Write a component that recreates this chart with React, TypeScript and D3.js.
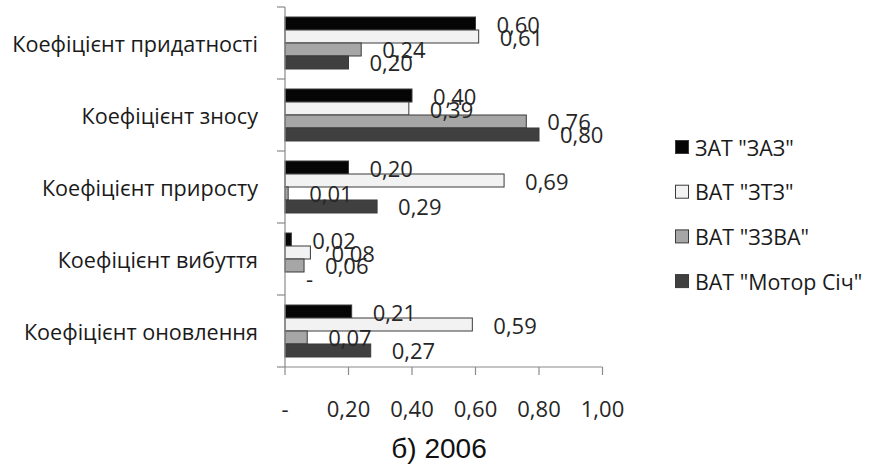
import React from "react";
import * as d3 from "d3";

const categories = [
  "Коефіцієнт придатності",
  "Коефіцієнт зносу",
  "Коефіцієнт приросту",
  "Коефіцієнт вибуття",
  "Коефіцієнт оновлення",
];
const seriesNames = ['ЗАТ "ЗАЗ"', 'ВАТ "ЗТЗ"', 'ВАТ "ЗЗВА"', 'ВАТ "Мотор Січ"'];
const zaz = [0.6, 0.4, 0.2, 0.02, 0.21];
const ztz = [0.61, 0.39, 0.69, 0.08, 0.59];
const zzva = [0.24, 0.76, 0.01, 0.06, 0.07];
const motorSich = [0.2, 0.8, 0.29, 0, 0.27];
const xTicks = [0, 0.2, 0.4, 0.6, 0.8, 1.0];
const title = "б) 2006";

const seriesValues = [zaz, ztz, zzva, motorSich];
const fills = ["#050505", "#f2f2f2", "#a6a6a6", "#404040"];

const W = 872;
const H = 465;
const FONT = "'Open Sans', 'Noto Sans', sans-serif";

const fmt = (v: number) => (v === 0 ? "-" : v.toFixed(2).replace(".", ","));

export default function App() {
  const x = d3.scaleLinear().domain([0, 1]).range([285, 602.5]);
  const y = d3
    .scaleBand<string>()
    .domain(categories)
    .range([7, 367])
    .paddingInner(0.278)
    .paddingOuter(0.139);
  const ySub = d3
    .scaleBand<string>()
    .domain(seriesNames)
    .range([0, y.bandwidth()]);

  const step = y.step();
  const catTickYs = d3.range(categories.length + 1).map((i) => 7 + i * step);

  return (
    <svg
      width={W}
      height={H}
      style={{ position: "absolute", left: 0, top: 0, background: "#fff" }}
    >
      <rect x={0} y={0} width={W} height={H} fill="#fff" />
      {/* bars */}
      {seriesNames.map((s, si) =>
        categories.map((c, ci) => {
          const v = seriesValues[si][ci];
          const by = (y(c) as number) + (ySub(s) as number);
          return (
            <rect
              key={s + c}
              x={x(0)}
              y={by}
              width={Math.max(0, x(v) - x(0))}
              height={ySub.bandwidth()}
              fill={fills[si]}
              stroke="#3a3a3a"
              strokeWidth={1}
            />
          );
        })
      )}
      {/* axes */}
      <line x1={x(0)} x2={x(0)} y1={7} y2={367} stroke="#8a8a8a" strokeWidth={1.2} />
      {catTickYs.map((ty, i) => (
        <line key={"ct" + i} x1={277} x2={x(0)} y1={ty} y2={ty} stroke="#8a8a8a" strokeWidth={1.2} />
      ))}
      <line x1={x(0)} x2={x(1)} y1={367} y2={367} stroke="#8a8a8a" strokeWidth={1.2} />
      {xTicks.map((t) => (
        <line key={"xt" + t} x1={x(t)} x2={x(t)} y1={367} y2={375} stroke="#8a8a8a" strokeWidth={1.2} />
      ))}
      {xTicks.map((t) => (
        <text
          key={"xl" + t}
          x={x(t)}
          y={408}
          textAnchor="middle"
          dominantBaseline="central"
          fontFamily={FONT}
          fontSize={22}
          fill="#262626"
        >
          {fmt(t)}
        </text>
      ))}
      {/* category labels */}
      {categories.map((c) => (
        <text
          key={"cl" + c}
          x={258}
          y={(y(c) as number) + y.bandwidth() / 2}
          textAnchor="end"
          dominantBaseline="central"
          fontFamily={FONT}
          fontSize={21.6}
          fill="#1a1a1a"
        >
          {c}
        </text>
      ))}
      {/* value labels */}
      {seriesNames.map((s, si) =>
        categories.map((c, ci) => {
          const v = seriesValues[si][ci];
          const by = (y(c) as number) + (ySub(s) as number) + ySub.bandwidth() / 2;
          return (
            <text
              key={"vl" + s + c}
              x={x(v) + 21}
              y={by}
              dominantBaseline="central"
              fontFamily={FONT}
              fontSize={22}
              fill="#262626"
            >
              {fmt(v)}
            </text>
          );
        })
      )}
      {/* legend */}
      {seriesNames.map((s, si) => {
        const ly = 147 + si * 44.7;
        return (
          <g key={"lg" + s}>
            <rect x={675.5} y={ly - 6.5} width={13} height={13} fill={fills[si]} stroke="#3a3a3a" strokeWidth={1} />
            <text
              x={695}
              y={ly}
              dominantBaseline="central"
              fontFamily={FONT}
              fontSize={21.4}
              fill="#1a1a1a"
            >
              {s}
            </text>
          </g>
        );
      })}
      {/* title */}
      <text
        x={439}
        y={458}
        textAnchor="middle"
        fontFamily="'Liberation Sans', Arial, sans-serif"
        fontSize={28}
        fill="#111"
      >
        {title}
      </text>
    </svg>
  );
}
